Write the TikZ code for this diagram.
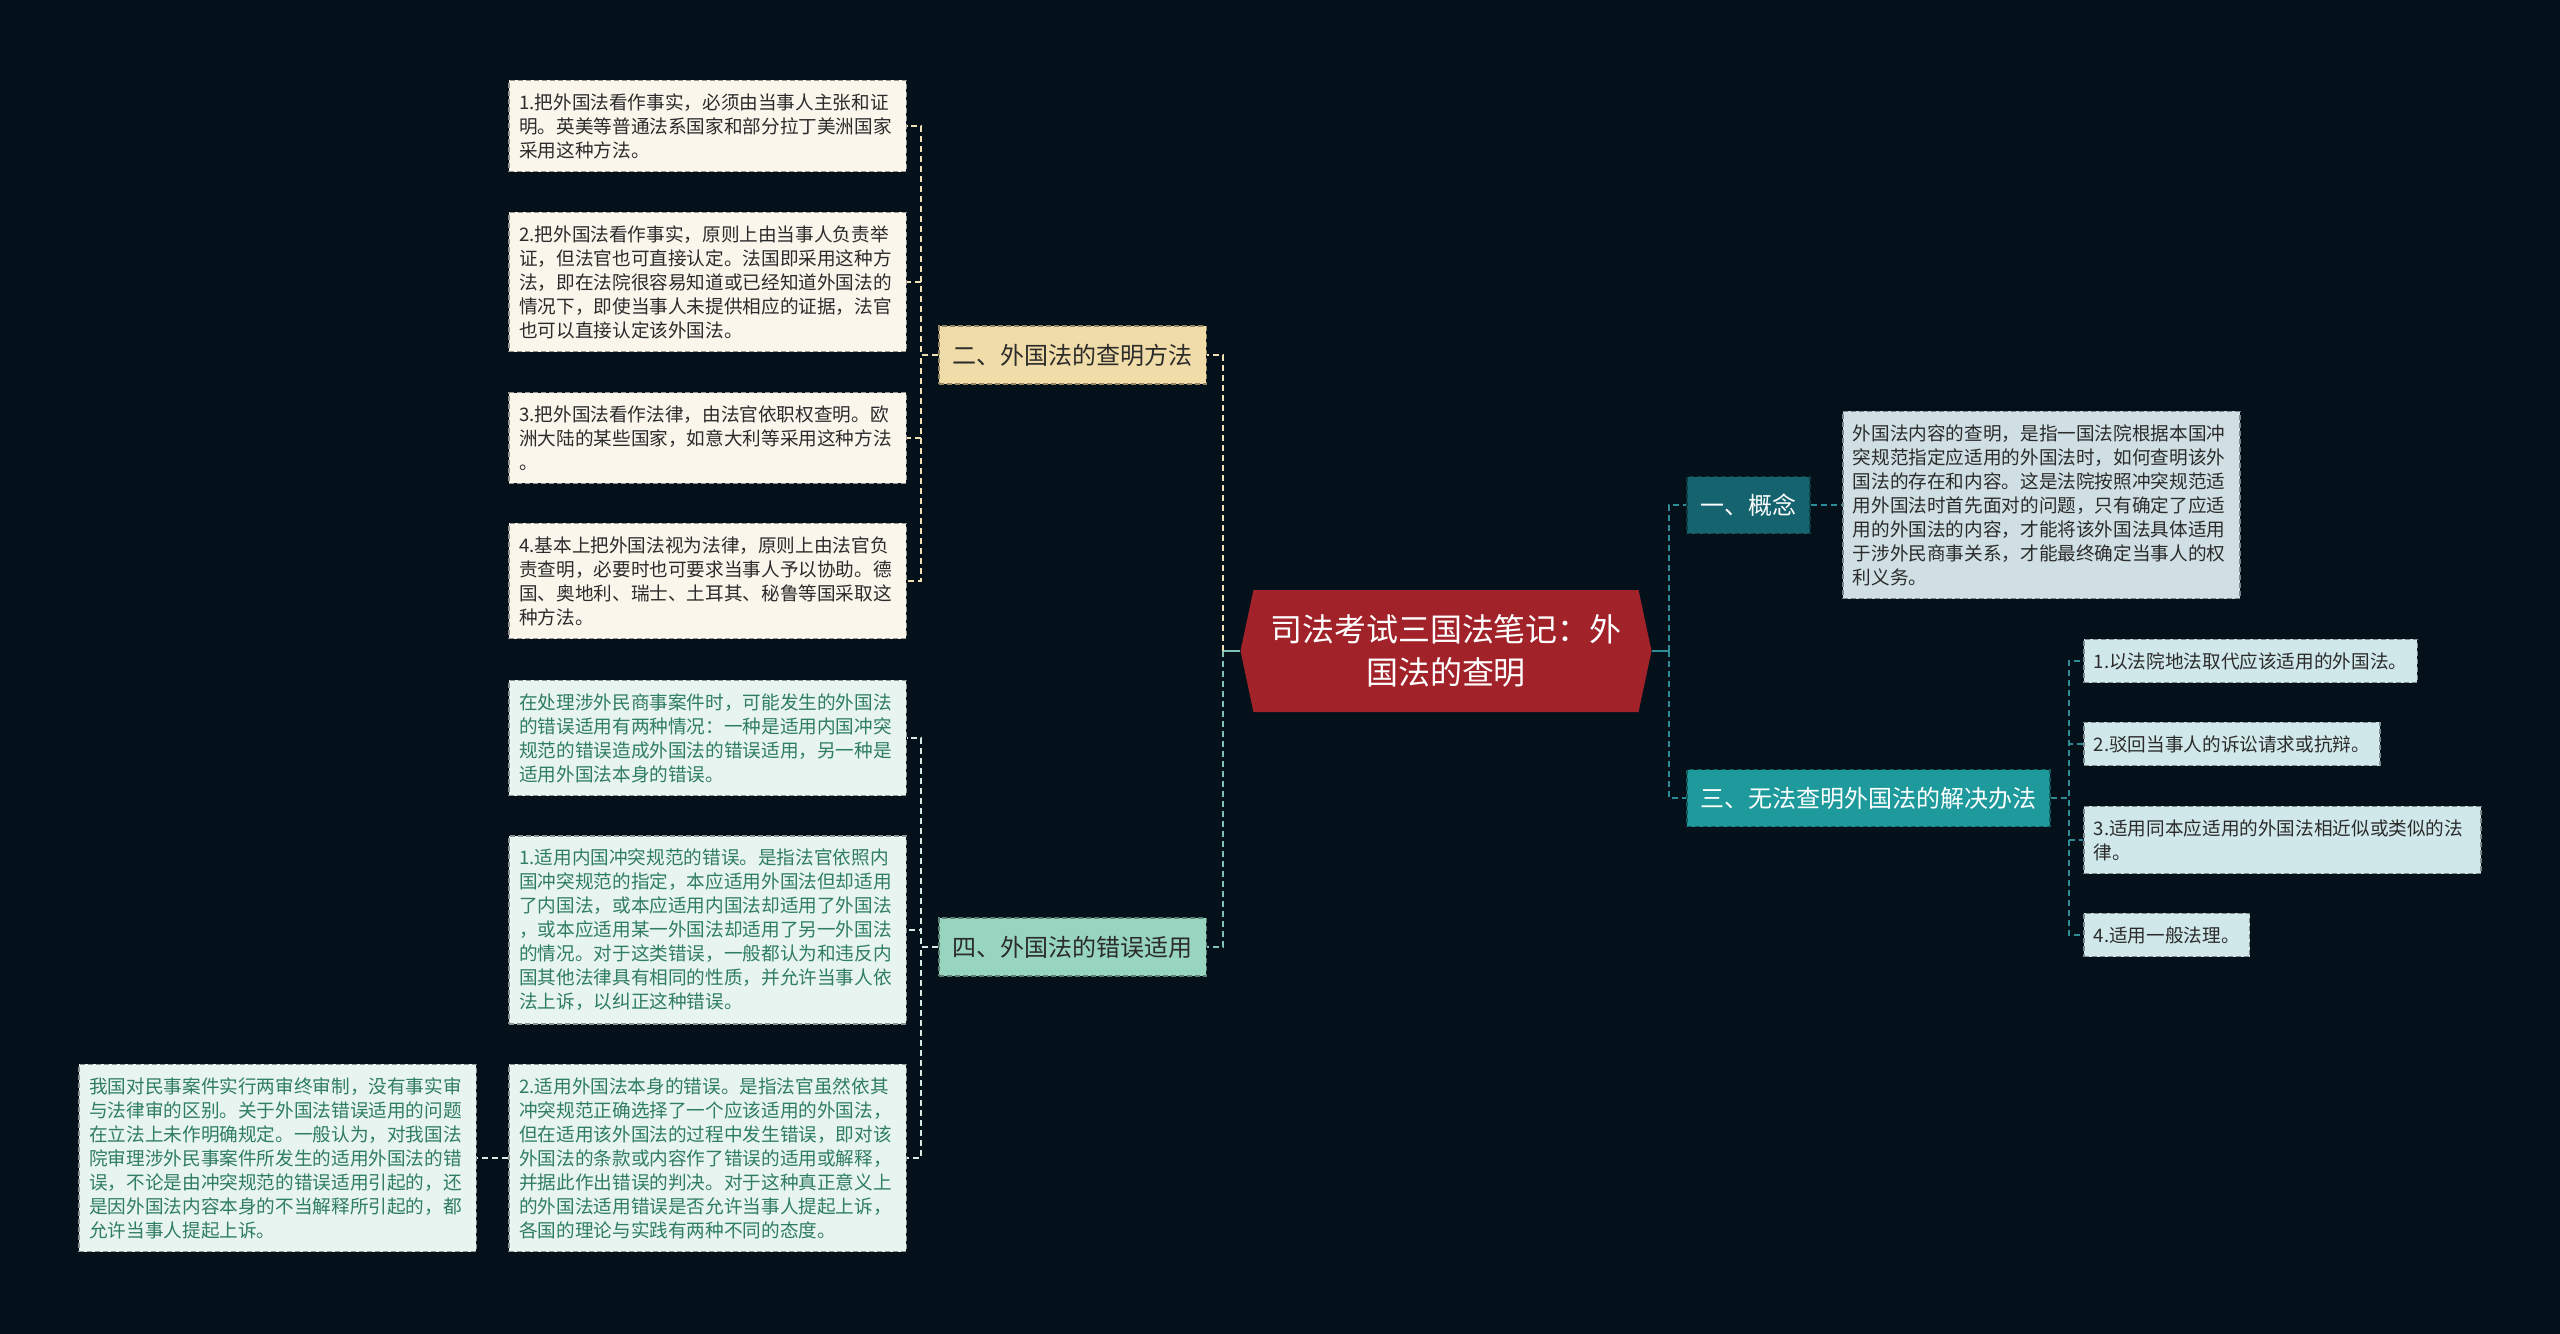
\documentclass[tikz,border=0pt]{standalone}
\usepackage{fontspec}
\setmainfont{Noto Sans CJK SC}
\usetikzlibrary{shapes.symbols}
\definecolor{bgnavy}{HTML}{04111A}
\definecolor{rootred}{HTML}{A12329}
\definecolor{tanfill}{HTML}{F0DCA8}
\definecolor{creamfill}{HTML}{FAF6EC}
\definecolor{mintfill}{HTML}{97D5C0}
\definecolor{palemint}{HTML}{E8F4EF}
\definecolor{mintgreen}{HTML}{2F7D63}
\definecolor{darkteal}{HTML}{15636E}
\definecolor{greyblue}{HTML}{CFDFE3}
\definecolor{tealfill}{HTML}{1E9A9C}
\definecolor{paleteal}{HTML}{D1E8EB}
\definecolor{textdark}{HTML}{2B2B2B}
\definecolor{creamln}{HTML}{EFE1B3}
\definecolor{mintln}{HTML}{7FC2B6}
\definecolor{paleln}{HTML}{D5ECE4}
\definecolor{tealln}{HTML}{2B8C96}

\begin{document}
\begin{tikzpicture}[x=0.2mm, y=-0.2mm,
  leaf/.style={draw=#1!60!black, fill=#1, dash pattern=on 1mm off 0.6mm,
               line width=0.3mm, align=left, inner xsep=2mm, inner ysep=2.6mm,
               font=\fontsize{10.6}{13.66}\selectfont, text=textdark},
  wide/.style={text width=75.4mm},
  branch/.style={draw=#1!60!black, fill=#1, dash pattern=on 1mm off 0.6mm,
                 line width=0.3mm, minimum height=11.6mm, inner xsep=2.7mm,
                 font=\fontsize{13.66}{16}\selectfont},
  link/.style={draw=#1, line width=0.4mm, dash pattern=on 1.2mm off 0.8mm},
  stub/.style={draw=#1, line width=0.4mm}]
\fill[bgnavy] (0,0) rectangle (2560,1334);
\useasboundingbox (0,0) rectangle (2560,1334);

\node[signal, signal to=west and east, signal pointer angle=156, fill=rootred,
      minimum width=82.2mm, minimum height=24.4mm, text=white, align=center,
      font=\fontsize{18.2}{24.8}\selectfont] (root) at (1446,651)
  {司法考试三国法笔记：外\\国法的查明};

\node[branch=tanfill, text=textdark, anchor=east] (meth) at (1207,355) {二、外国法的查明方法};
\node[branch=mintfill, text=textdark, anchor=east] (mis) at (1207,947) {四、外国法的错误适用};
\node[branch=darkteal, text=white, anchor=west, minimum height=11.4mm] (con) at (1686,505) {一、概念};
\node[branch=tealfill, text=white, anchor=west, minimum height=11.4mm] (rem) at (1686,798) {三、无法查明外国法的解决办法};

\node[leaf=creamfill, wide, anchor=east] (meth1) at (907,126)
  {1.把外国法看作事实，必须由当事人主张和证\\明。英美等普通法系国家和部分拉丁美洲国家\\采用这种方法。};
\node[leaf=creamfill, wide, anchor=east] (meth2) at (907,282)
  {2.把外国法看作事实，原则上由当事人负责举\\证，但法官也可直接认定。法国即采用这种方\\法，即在法院很容易知道或已经知道外国法的\\情况下，即使当事人未提供相应的证据，法官\\也可以直接认定该外国法。};
\node[leaf=creamfill, wide, anchor=east] (meth3) at (907,438)
  {3.把外国法看作法律，由法官依职权查明。欧\\洲大陆的某些国家，如意大利等采用这种方法\\。};
\node[leaf=creamfill, wide, anchor=east] (meth4) at (907,581)
  {4.基本上把外国法视为法律，原则上由法官负\\责查明，必要时也可要求当事人予以协助。德\\国、奥地利、瑞士、土耳其、秘鲁等国采取这\\种方法。};

\node[leaf=palemint, text=mintgreen, wide, anchor=east] (mis1) at (907,738)
  {在处理涉外民商事案件时，可能发生的外国法\\的错误适用有两种情况：一种是适用内国冲突\\规范的错误造成外国法的错误适用，另一种是\\适用外国法本身的错误。};
\node[leaf=palemint, text=mintgreen, wide, anchor=east] (mis2) at (907,930)
  {1.适用内国冲突规范的错误。是指法官依照内\\国冲突规范的指定，本应适用外国法但却适用\\了内国法，或本应适用内国法却适用了外国法\\，或本应适用某一外国法却适用了另一外国法\\的情况。对于这类错误，一般都认为和违反内\\国其他法律具有相同的性质，并允许当事人依\\法上诉，以纠正这种错误。};
\node[leaf=palemint, text=mintgreen, wide, anchor=east] (mis3) at (907,1158)
  {2.适用外国法本身的错误。是指法官虽然依其\\冲突规范正确选择了一个应该适用的外国法，\\但在适用该外国法的过程中发生错误，即对该\\外国法的条款或内容作了错误的适用或解释，\\并据此作出错误的判决。对于这种真正意义上\\的外国法适用错误是否允许当事人提起上诉，\\各国的理论与实践有两种不同的态度。};
\node[leaf=palemint, text=mintgreen, wide, anchor=east] (appeal) at (477,1158)
  {我国对民事案件实行两审终审制，没有事实审\\与法律审的区别。关于外国法错误适用的问题\\在立法上未作明确规定。一般认为，对我国法\\院审理涉外民事案件所发生的适用外国法的错\\误，不论是由冲突规范的错误适用引起的，还\\是因外国法内容本身的不当解释所引起的，都\\允许当事人提起上诉。};

\node[leaf=greyblue, wide, anchor=west] (con1) at (1842,505)
  {外国法内容的查明，是指一国法院根据本国冲\\突规范指定应适用的外国法时，如何查明该外\\国法的存在和内容。这是法院按照冲突规范适\\用外国法时首先面对的问题，只有确定了应适\\用的外国法的内容，才能将该外国法具体适用\\于涉外民商事关系，才能最终确定当事人的权\\利义务。};
\node[leaf=paleteal, anchor=west] (rem1) at (2083,661) {1.以法院地法取代应该适用的外国法。};
\node[leaf=paleteal, anchor=west] (rem2) at (2083,744) {2.驳回当事人的诉讼请求或抗辩。};
\node[leaf=paleteal, wide, anchor=west] (rem3) at (2083,840) {3.适用同本应适用的外国法相近似或类似的法\\律。};
\node[leaf=paleteal, anchor=west] (rem4) at (2083,935) {4.适用一般法理。};

\draw[stub=mintln] (root.west) -- ++(-17,0) coordinate (lt);
\draw[stub=tealln] (root.east) -- ++(17,0) coordinate (rt);
\draw[link=creamln] (lt) |- (meth.east);
\draw[link=mintln] (lt) |- (mis.east);
\draw[link=tealln] (rt) |- (con.west);
\draw[link=tealln] (rt) |- (rem.west);

\draw[link=creamln] (meth.west) -- ++(-17,0) |- (meth1.east);
\draw[link=creamln] (meth.west) -- ++(-17,0) |- (meth2.east);
\draw[link=creamln] (meth.west) -- ++(-17,0) |- (meth3.east);
\draw[link=creamln] (meth.west) -- ++(-17,0) |- (meth4.east);
\draw[link=paleln] (mis.west) -- ++(-17,0) |- (mis1.east);
\draw[link=paleln] (mis.west) -- ++(-17,0) |- (mis2.east);
\draw[link=paleln] (mis.west) -- ++(-17,0) |- (mis3.east);
\draw[link=paleln] (mis3.west) -- (appeal.east);

\draw[link=tealln] (con.east) -- (con1.west);
\draw[link=tealln] (rem.east) -- ++(18,0) |- (rem1.west);
\draw[link=tealln] (rem.east) -- ++(18,0) |- (rem2.west);
\draw[link=tealln] (rem.east) -- ++(18,0) |- (rem3.west);
\draw[link=tealln] (rem.east) -- ++(18,0) |- (rem4.west);
\end{tikzpicture}
\end{document}
